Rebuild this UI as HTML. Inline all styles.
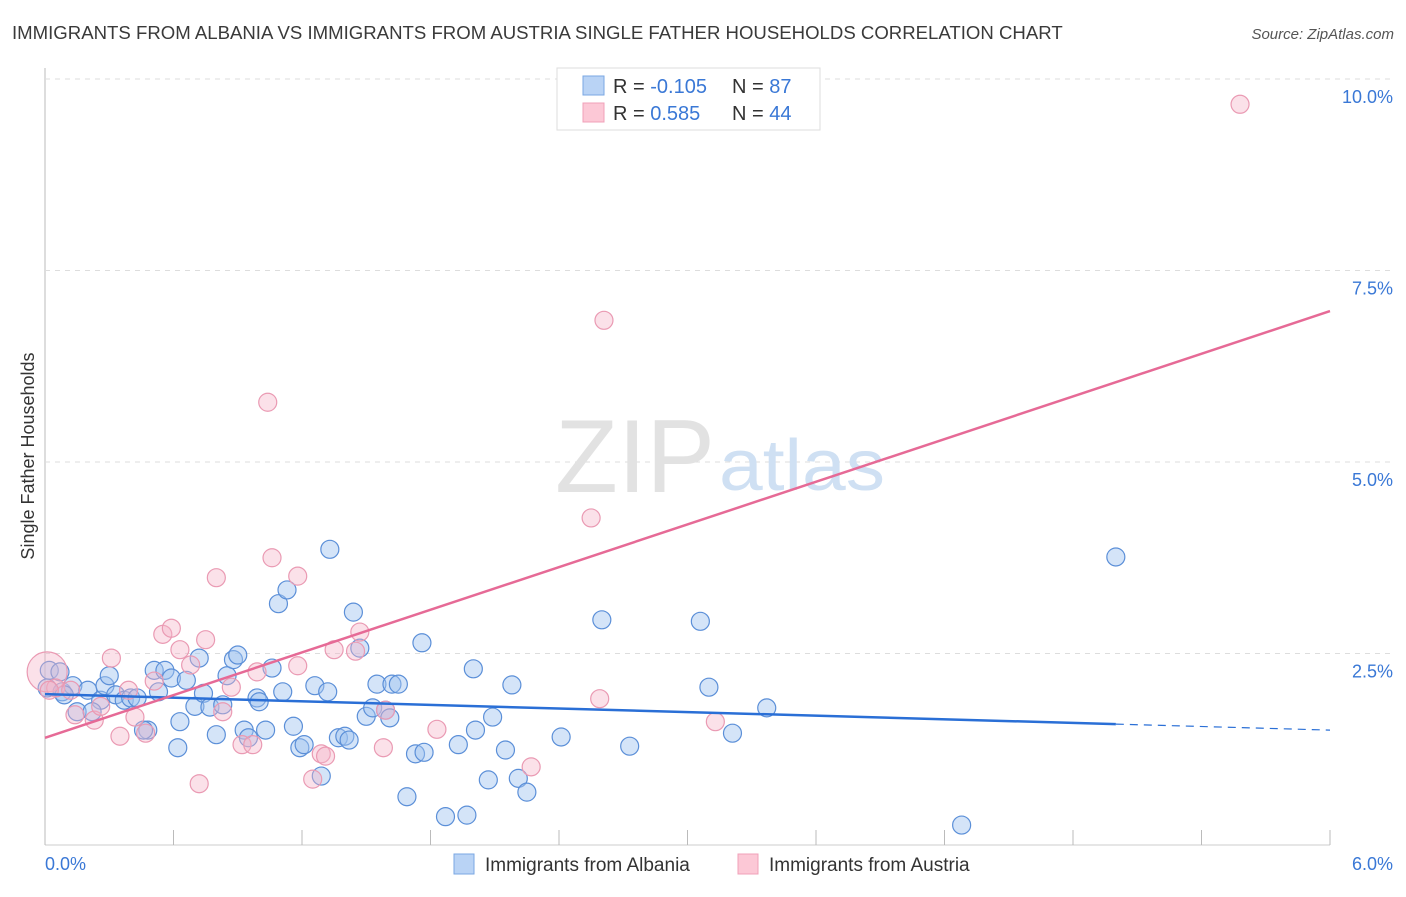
<!DOCTYPE html>
<html><head><meta charset="utf-8"><style>
body{margin:0;background:#fff;font-family:"Liberation Sans",sans-serif;}
svg text{font-family:"Liberation Sans",sans-serif;}
</style></head><body>
<svg id="chart" width="1406" height="892" viewBox="0 0 1406 892" xmlns="http://www.w3.org/2000/svg">
<text x="12" y="39" font-size="18.6" fill="#3a3a3a">IMMIGRANTS FROM ALBANIA VS IMMIGRANTS FROM AUSTRIA SINGLE FATHER HOUSEHOLDS CORRELATION CHART</text>
<text x="1394" y="39" font-size="15" fill="#555" font-style="italic" text-anchor="end">Source: ZipAtlas.com</text>
<g id="grid"></g>
<g>
<text x="635" y="492" font-size="104" fill="#e2e2e2" font-family="Liberation Serif" text-anchor="middle" textLength="160" lengthAdjust="spacingAndGlyphs">ZIP</text>
<text x="802" y="490" font-size="72" fill="#cfe0f3" text-anchor="middle" textLength="166" lengthAdjust="spacingAndGlyphs">atlas</text>
</g>
<text transform="translate(34,456) rotate(-90)" font-size="18" fill="#333" text-anchor="middle">Single Father Households</text>
<g id="points"></g>
<g id="lines"></g>
<g>
<rect x="557" y="68" width="263" height="62" fill="#fff" stroke="#ddd"/>
<rect x="583" y="76" width="21" height="19" fill="#b9d3f5" stroke="#7aa7e3"/>
<rect x="583" y="103" width="21" height="19" fill="#fcc8d6" stroke="#f0a0b8"/>
<text x="613" y="93" font-size="20" fill="#333">R = <tspan fill="#3a78d6">-0.105</tspan></text>
<text x="732" y="93" font-size="20" fill="#333">N = <tspan fill="#3a78d6"> 87</tspan></text>
<text x="613" y="120" font-size="20" fill="#333">R = <tspan fill="#3a78d6"> 0.585</tspan></text>
<text x="732" y="120" font-size="20" fill="#333">N = <tspan fill="#3a78d6">44</tspan></text>
</g>
<g>
<rect x="454" y="854" width="20" height="20" fill="#b9d3f5" stroke="#7aa7e3"/>
<text x="485" y="871" font-size="19" fill="#333">Immigrants from Albania</text>
<rect x="738" y="854" width="20" height="20" fill="#fcc8d6" stroke="#f0a0b8"/>
<text x="769" y="871" font-size="19" fill="#333">Immigrants from Austria</text>
</g>
</svg>
<script>
const blueX=[0.02,0.07,0.01,0.08,0.13,0.20,0.09,0.26,0.15,0.22,0.28,0.30,0.33,0.37,0.40,0.43,0.48,0.46,0.53,0.51,0.56,0.59,0.66,0.63,0.62,0.70,0.72,0.74,0.77,0.80,0.83,0.85,0.88,0.90,0.93,0.95,0.99,1.00,1.03,1.06,1.09,1.11,1.13,1.16,1.19,1.21,1.26,1.29,1.32,1.33,1.37,1.40,1.42,1.44,1.47,1.50,1.53,1.55,1.59,1.62,1.65,1.61,1.69,1.73,1.77,1.76,1.87,1.93,1.97,2.00,2.01,2.07,2.09,2.15,2.18,2.21,2.25,2.41,2.60,2.73,3.06,3.10,3.21,3.37,4.28,5.00];
const blueY=[2.28,2.26,2.05,2.00,2.08,2.02,1.96,1.89,1.74,1.74,2.08,2.21,1.96,1.89,1.92,1.92,1.50,1.50,2.00,2.28,2.28,2.18,2.15,1.61,1.27,1.81,2.44,1.98,1.80,1.44,1.83,2.21,2.42,2.48,1.50,1.40,1.92,1.87,1.50,2.31,3.15,2.00,3.33,1.55,1.27,1.31,2.08,0.90,2.00,3.86,1.40,1.42,1.37,3.04,2.57,1.68,1.79,2.10,1.76,2.10,2.10,1.66,0.63,1.19,1.21,2.64,0.37,1.31,0.39,2.30,1.50,0.85,1.67,1.24,2.09,0.87,0.69,1.41,2.94,1.29,2.92,2.06,1.46,1.79,0.26,3.76];
const pinkX=[0.01,0.05,0.14,0.23,0.31,0.35,0.39,0.42,0.47,0.51,0.55,0.59,0.63,0.68,0.72,0.75,0.80,0.83,0.87,0.92,0.97,0.99,1.04,1.06,1.18,1.18,1.25,1.29,1.31,1.35,1.45,1.47,1.58,1.59,1.83,2.27,2.55,2.59,2.61,3.13,5.58,0.02,0.12,0.26];
const pinkY=[2.26,2.05,1.70,1.63,2.44,1.42,2.02,1.67,1.46,2.14,2.75,2.83,2.55,2.35,0.80,2.68,3.49,1.74,2.06,1.31,1.31,2.26,5.78,3.75,3.51,2.34,0.86,1.19,1.16,2.55,2.53,2.78,1.27,1.76,1.51,1.02,4.27,1.91,6.85,1.61,9.67,2.02,2.02,1.81];
const pinkSize=[20,9,9,9,9,9,9,9,9,9,9,9,9,9,9,9,9,9,9,9,9,9,9,9,9,9,9,9,9,9,9,9,9,9,9,9,9,9,9,9,9,9,9,9];
const blueTrend=[1.97,1.50];
const pinkTrend=[1.40,6.97];
const yTicks=[2.5,5.0,7.5,10.0];
const xTickLabels=["0.0%","6.0%"];

const NS="http://www.w3.org/2000/svg";
const X0=45,X1=1330,Y0=845,Y1=79;
const sx=v=>X0+(v/6)*(X1-X0);
const sy=v=>Y0-(v/10)*(Y0-Y1);
function mk(t,a,p){const e=document.createElementNS(NS,t);for(const k in a)e.setAttribute(k,a[k]);p.appendChild(e);return e;}
const grid=document.getElementById('grid');
mk('line',{x1:X0,y1:68,x2:X0,y2:Y0,stroke:'#bbb'},grid);
mk('line',{x1:X0,y1:Y0,x2:X1,y2:Y0,stroke:'#ccc'},grid);
yTicks.forEach(t=>{
 const g=mk('line',{x1:X0,y1:sy(t),x2:1394,y2:sy(t),stroke:'#ddd','stroke-dasharray':'5,5'},grid);
 
 
 const l=mk('text',{x:1393,y:sy(t)+24,'font-size':18,fill:'#3a78d6','text-anchor':'end'},grid);
 l.textContent=t.toFixed(1)+'%';
 
 
});
for(let i=0;i<=10;i++){
 const tk=mk('line',{x1:sx(i*0.6),y1:830,x2:sx(i*0.6),y2:Y0,stroke:'#bbb'},grid);
 
 
}
const xl0=mk('text',{x:45,y:870,'font-size':18,fill:'#3a78d6'},grid);xl0.textContent=xTickLabels[0];


const xl1=mk('text',{x:1393,y:870,'font-size':18,fill:'#3a78d6','text-anchor':'end'},grid);xl1.textContent=xTickLabels[1];



const pts=document.getElementById('points');
blueX.forEach((x,i)=>{
 const c=mk('circle',{cx:sx(x),cy:sy(blueY[i]),r:9,fill:'rgba(160,196,240,0.45)',stroke:'#5b8fd8','stroke-width':1.2},pts);
 
 
});
pinkX.forEach((x,i)=>{
 const c=mk('circle',{cx:sx(x),cy:sy(pinkY[i]),r:pinkSize[i],fill:'rgba(245,180,200,0.4)',stroke:'#ea9ab3','stroke-width':1.2},pts);
 
 
});
const ln=document.getElementById('lines');
const bAt=x=>blueTrend[0]+(blueTrend[1]-blueTrend[0])*x/6;
const bl=mk('line',{x1:sx(0),y1:sy(bAt(0)),x2:sx(5),y2:sy(bAt(5)),stroke:'#2a6fd6','stroke-width':2.5},ln);


const bd=mk('line',{x1:sx(5),y1:sy(bAt(5)),x2:sx(6),y2:sy(bAt(6)),stroke:'#2a6fd6','stroke-width':1.2,'stroke-dasharray':'8,6'},ln);


const pl=mk('line',{x1:sx(0),y1:sy(pinkTrend[0]),x2:sx(6),y2:sy(pinkTrend[1]),stroke:'#e66a96','stroke-width':2.5},ln);


</script>
</body></html>
